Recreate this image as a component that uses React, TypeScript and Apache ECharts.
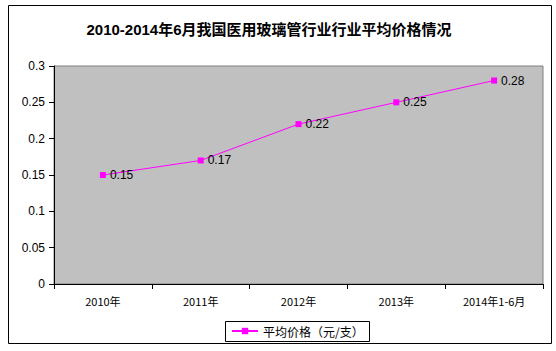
import React, { useEffect, useRef } from "react";
import * as echarts from "echarts";

const categories = ["2010年", "2011年", "2012年", "2013年", "2014年1-6月"];
const prices = [0.15, 0.17, 0.22, 0.25, 0.28];
const seriesName = "平均价格（元/支）";
const titleText = "2010-2014年6月我国医用玻璃管行业行业平均价格情况";

export default function App() {
  const ref = useRef<HTMLDivElement>(null);
  useEffect(() => {
    const chart = echarts.init(ref.current!, null, { renderer: "svg" });
    chart.setOption({
      animation: false,
      backgroundColor: "#ffffff",
      title: {
        text: titleText,
        left: 264,
        textAlign: "center",
        top: 17,
        textStyle: { fontSize: 15, fontWeight: "bold", color: "#000", fontFamily: "Liberation Sans, Noto Sans CJK SC" },
      },
      graphic: [
        {
          type: "rect",
          shape: { x: 8.5, y: 5.5, width: 543, height: 338 },
          style: { fill: "none", stroke: "#000", lineWidth: 1 },
          silent: true,
        },
        {
          type: "rect",
          shape: { x: 225.5, y: 321.5, width: 144, height: 20 },
          style: { fill: "#fff", stroke: "#000", lineWidth: 1 },
          silent: true,
          z: -1,
        },
      ],
      grid: {
        left: 54,
        right: 13,
        top: 66,
        bottom: 67,
        show: true,
        backgroundColor: "#C0C0C0",
        borderColor: "#808080",
        borderWidth: 1,
      },
      legend: {
        data: [seriesName],
        left: 229,
        top: 323,
        itemWidth: 26,
        itemHeight: 8,
        itemGap: 4,
        padding: 2,
        textStyle: { fontSize: 12, color: "#000", fontFamily: "Noto Sans CJK SC" },
        z: 10,
      },
      xAxis: {
        type: "category",
        data: categories,
        boundaryGap: true,
        axisLine: { lineStyle: { color: "#000", width: 1 } },
        axisTick: { show: true, inside: false, length: 5, alignWithLabel: false, lineStyle: { color: "#000" } },
        axisLabel: { fontSize: 11, color: "#000", margin: 11, fontFamily: "Noto Sans CJK SC", interval: 0 },
        splitLine: { show: false },
      },
      yAxis: {
        type: "value",
        min: 0,
        max: 0.3,
        interval: 0.05,
        axisLine: { show: true, lineStyle: { color: "#000", width: 1 } },
        axisTick: { show: true, length: 5, lineStyle: { color: "#000" } },
        axisLabel: { fontSize: 12, color: "#000", margin: 9, fontFamily: "Liberation Sans" },
        splitLine: { show: false },
      },
      series: [
        {
          name: seriesName,
          type: "line",
          data: prices,
          symbol: "rect",
          symbolSize: 6,
          itemStyle: { color: "#FF00FF" },
          lineStyle: { color: "#FF00FF", width: 1 },
          label: {
            show: true,
            position: "right",
            distance: 4,
            fontSize: 12,
            color: "#000",
            fontFamily: "Liberation Sans",
          },
        },
      ],
    });
    return () => chart.dispose();
  }, []);
  return (
    <div
      ref={ref}
      style={{ position: "absolute", left: 0, top: 0, width: 556, height: 351 }}
    />
  );
}
